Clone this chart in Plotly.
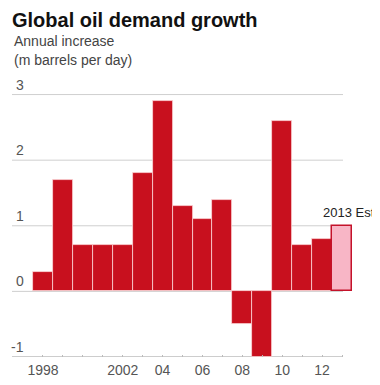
import plotly.graph_objects as go

years = list(range(1998, 2014))
values = [0.3, 1.7, 0.7, 0.7, 0.7, 1.8, 2.9, 1.3, 1.1, 1.4, -0.5, -1.0, 2.6, 0.7, 0.8, 1.0]
estimate_year = 2013
x_tick_vals = [1998, 2002, 2004, 2006, 2008, 2010, 2012]
x_tick_text = ["1998", "2002", "04", "06", "08", "10", "12"]
y_tick_vals = [-1, 0, 1, 2, 3]
y_tick_text = ["-1", "0", "1", "2", "3"]

RED = "#c8101e"
PINK = "#f8b6c6"

colors = [PINK if y == estimate_year else RED for y in years]
line_colors = ["#c4122a" if y == estimate_year else "rgba(255,225,225,0.9)" for y in years]
line_widths = [1.5 if y == estimate_year else 0.8 for y in years]

fig = go.Figure()
fig.add_trace(go.Bar(
    x=years, y=values,
    marker=dict(color=colors, line=dict(color=line_colors, width=line_widths)),
    width=1.0, hoverinfo="skip",
))

# page body has an 8px margin; figure is sized to fit the 380x385 window
OFF = 8
W, H = 380 - OFF, 385 - OFF
L, R, T, B = 12 - OFF, 28, 88 - OFF, 28
PW = W - L - R
grid_x_end = (343 - 12) / PW

shapes = []
for v in y_tick_vals:
    shapes.append(dict(type="line", xref="paper", yref="y", x0=0, x1=grid_x_end, y0=v, y1=v,
                       line=dict(color="#9a9a9a" if v == min(y_tick_vals) else "#cfcfcf", width=1),
                       layer="below"))

FONT = "Liberation Sans, Arial, sans-serif"
annotations = []
label_x = (26 - 12) / PW
for v, t in zip(y_tick_vals, y_tick_text):
    annotations.append(dict(xref="paper", yref="y", x=label_x, y=v, text=t, showarrow=False,
                            xanchor="right", yanchor="bottom", yshift=0,
                            font=dict(family=FONT, size=14, color="#555")))

annotations.append(dict(xref="x", yref="y", x=estimate_year, y=1.0, text="2013 Est",
                        showarrow=False, xanchor="left", yanchor="bottom", xshift=-21, yshift=4,
                        font=dict(family=FONT, size=13, color="#222")))

annotations.append(dict(xref="paper", yref="paper", x=(10 - 12) / PW, y=1,
                        yshift=T + 1, text="<b>Global oil demand growth</b>", showarrow=False,
                        xanchor="left", yanchor="top",
                        font=dict(family="Liberation Sans Narrow, Arial Narrow, Liberation Sans, sans-serif",
                                  size=20, color="#111")))
annotations.append(dict(xref="paper", yref="paper", x=0, y=1, yshift=T - 23,
                        text="Annual increase", showarrow=False, xanchor="left", yanchor="top",
                        font=dict(family=FONT, size=14, color="#444")))
annotations.append(dict(xref="paper", yref="paper", x=0, y=1, yshift=T - 42,
                        text="(m barrels per day)", showarrow=False, xanchor="left", yanchor="top",
                        font=dict(family=FONT, size=14, color="#444")))

fig.update_layout(
    width=W, height=H,
    margin=dict(l=L, r=R, t=T, b=B, pad=0),
    paper_bgcolor="white", plot_bgcolor="white",
    showlegend=False, bargap=0,
    shapes=shapes, annotations=annotations,
    xaxis=dict(range=[1997.5 - 21 / 19.94, 2013.5], tickmode="array",
               tickvals=years,
               ticktext=[x_tick_text[x_tick_vals.index(y)] if y in x_tick_vals else "" for y in years],
               ticks="inside", ticklen=2, tickcolor="#bbb", showgrid=False, zeroline=False,
               showline=False, ticklabelstandoff=3,
               tickfont=dict(family=FONT, size=14, color="#555")),
    yaxis=dict(range=[-1, 3.1], showgrid=False, zeroline=False, showticklabels=False, ticks=""),
)

fig.write_html("out.html")
